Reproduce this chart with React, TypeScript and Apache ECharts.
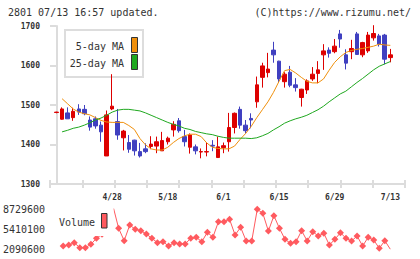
import React, { useEffect, useRef } from "react";
import * as echarts from "echarts";

// Trading days shown on the chart (2020-04-14 .. 2020-07-13)
const dates = [
  "4/14", "4/15", "4/16", "4/17", "4/20", "4/21", "4/22", "4/23", "4/24", "4/27",
  "4/28", "4/30", "5/1", "5/7", "5/8", "5/11", "5/12", "5/13", "5/14", "5/15",
  "5/18", "5/19", "5/20", "5/21", "5/22", "5/25", "5/26", "5/27", "5/28", "5/29",
  "6/1", "6/2", "6/3", "6/4", "6/5", "6/8", "6/9", "6/10", "6/11", "6/12",
  "6/15", "6/16", "6/17", "6/18", "6/19", "6/22", "6/23", "6/24", "6/25", "6/26",
  "6/29", "6/30", "7/1", "7/2", "7/3", "7/6", "7/7", "7/8", "7/9", "7/10",
  "7/13",
];

const opens = [
  1481, 1464, 1480, 1468, 1490, 1489, 1462, 1465, 1449, 1371,
  1490, 1458, 1417, 1405, 1411, 1382, 1389, 1395, 1396, 1384,
  1407, 1437, 1460, 1420, 1393, 1394, 1381, 1381, 1398, 1367,
  1392, 1407, 1443, 1489, 1449, 1466, 1508, 1570, 1582, 1639,
  1611, 1559, 1583, 1551, 1519, 1538, 1566, 1580, 1627, 1639,
  1635, 1680, 1627, 1635, 1680, 1627, 1637, 1670, 1675, 1677,
  1620,
];
const closes = [
  1482, 1490, 1465, 1484, 1482, 1478, 1444, 1447, 1432, 1475,
  1497, 1424, 1434, 1388, 1384, 1371, 1382, 1401, 1407, 1410,
  1416, 1451, 1435, 1407, 1424, 1384, 1382, 1382, 1396, 1394,
  1397, 1443, 1479, 1449, 1435, 1462, 1551, 1599, 1591, 1627,
  1566, 1578, 1550, 1544, 1540, 1561, 1578, 1589, 1637, 1631,
  1649, 1667, 1606, 1643, 1628, 1658, 1677, 1681, 1654, 1616,
  1627,
];
const lows = [
  1479, 1463, 1465, 1460, 1475, 1474, 1435, 1440, 1407, 1371,
  1487, 1412, 1385, 1379, 1372, 1367, 1378, 1388, 1378, 1384,
  1400, 1420, 1430, 1395, 1377, 1375, 1365, 1370, 1383, 1367,
  1378, 1382, 1428, 1440, 1428, 1441, 1493, 1544, 1570, 1607,
  1557, 1544, 1545, 1534, 1496, 1528, 1561, 1555, 1589, 1620,
  1631, 1645, 1590, 1616, 1627, 1621, 1632, 1663, 1648, 1603,
  1608,
];
const highs = [
  1483, 1494, 1494, 1493, 1502, 1500, 1471, 1471, 1458, 1486,
  1578, 1490, 1437, 1424, 1412, 1404, 1403, 1421, 1420, 1432,
  1420, 1459, 1467, 1437, 1428, 1400, 1390, 1405, 1411, 1420,
  1405, 1480, 1481, 1496, 1462, 1479, 1572, 1607, 1632, 1660,
  1612, 1583, 1599, 1568, 1541, 1565, 1596, 1611, 1654, 1646,
  1667, 1690, 1641, 1665, 1685, 1660, 1685, 1702, 1680, 1680,
  1642,
];

// Moving averages (the first trading day has no plotted value)
const ma5 = [
  null, 1516, 1503, 1490, 1482, 1478, 1475, 1468, 1461, 1457,
  1456, 1456, 1456, 1448, 1438, 1415, 1399, 1389, 1386, 1386,
  1393, 1405, 1415, 1422, 1426, 1426, 1420, 1404, 1393, 1390,
  1389, 1389, 1396, 1413, 1428, 1446, 1468, 1488, 1508, 1532,
  1560, 1587, 1590, 1581, 1570, 1560, 1556, 1556, 1566, 1588,
  1608, 1622, 1633, 1638, 1641, 1643, 1646, 1649, 1654, 1652,
  1651,
];
const ma25 = [
  null, 1432, 1436, 1441, 1444, 1449, 1455, 1462, 1467, 1474,
  1482, 1487, 1489, 1489, 1487, 1485, 1480, 1474, 1468, 1462,
  1456, 1451, 1447, 1441, 1438, 1433, 1430, 1427, 1425, 1421,
  1418, 1416, 1416, 1416, 1416, 1415, 1417, 1422, 1428, 1437,
  1445, 1454, 1460, 1465, 1469, 1474, 1481, 1488, 1497, 1508,
  1518, 1528, 1535, 1546, 1557, 1567, 1578, 1589, 1598, 1604,
  1610,
];

const volumes = [
  null, 2588500, 2754500, 3136000, 2307000, 2307000, 2870000, 3866000, 4530000, 5600000,
  9160000, 5526000, 3468000, 6074000, 5360000, 5128000, 4580000, 3866000, 3136000, 3302000,
  2589000, 3136000, 2920000, 2920000, 3866000, 4032000, 3302000, 4862000, 4032000, 6622000,
  6622000, 7020000, 4414000, 5692000, 3418000, 3418000, 8680000, 8016000, 5078000, 7617000,
  5526000, 3700000, 3036000, 3302000, 5128000, 3418000, 4962000, 4248000, 4696000, 2754000,
  3700000, 4796000, 3866000, 3418000, 4248000, 2589000, 4032000, 3584000, 2207000, 3468000,
  2041000,
];

const dateLabelIndexes = [10, 20, 30, 40, 50, 60];
const volumeTicks = [2090600, 5410100, 8729600];

const MONO = '"DejaVu Sans Mono", monospace';
const UP = "#dd0000";
const DOWN = "#4040c0";
const MA5_COLOR = "#f0900c";
const MA25_COLOR = "#1fa81f";
const VOL_COLOR = "#ff5a5f";
const AXIS_GRAY = "#dcdcdc";

// slot positions along the x axis
const X_MIN = -1.17;
const X_MAX = 62.64;

function pairs(values: (number | null)[]) {
  const out: number[][] = [];
  values.forEach((v, i) => {
    if (v != null) out.push([i, v]);
  });
  return out;
}

export default function App() {
  const ref = useRef<HTMLDivElement>(null);

  useEffect(() => {
    if (!ref.current) return;
    const chart = echarts.init(ref.current, undefined, { renderer: "svg" });

    const tickAxis = (inside: boolean, showLine: boolean) => ({
      type: "value",
      gridIndex: 0,
      position: "bottom",
      min: 0,
      max: 11,
      interval: 1,
      axisLine: { show: showLine, lineStyle: { color: AXIS_GRAY, width: 2 } },
      axisTick: { show: true, inside, length: 4, lineStyle: { color: AXIS_GRAY, width: 2 } },
      axisLabel: { show: false },
      splitLine: { show: false },
    });

    const priceAxis = (inside: boolean, main: boolean) => ({
      type: "value",
      gridIndex: 0,
      position: "left",
      min: 1300,
      max: 1700,
      interval: 100,
      axisLine: { show: main, lineStyle: { color: AXIS_GRAY, width: 2 } },
      axisTick: { show: true, inside, length: 4, lineStyle: { color: AXIS_GRAY, width: 2 } },
      axisLabel: {
        show: main,
        margin: 10,
        formatter: (v: number) => String(v),
        fontFamily: MONO,
        fontSize: 8,
        fontWeight: "bold",
        color: "#333",
      },
      splitLine: { show: false },
    });

    chart.setOption({
      animation: false,
      backgroundColor: "#ffffff",
      grid: [
        { left: 50, right: 15, top: 26, height: 158 },
        { left: 50, right: 15, top: 209, height: 40 },
      ],
      xAxis: [
        {
          type: "value",
          gridIndex: 0,
          position: "bottom",
          min: X_MIN,
          max: X_MAX,
          axisLine: { show: false },
          axisTick: { show: false },
          splitLine: { show: false },
          axisLabel: {
            customValues: dateLabelIndexes,
            formatter: (v: number) => dates[Math.round(v)] ?? "",
            margin: 9,
            fontFamily: MONO,
            fontSize: 8,
            fontWeight: "bold",
            color: "#333",
          },
        },
        {
          type: "value",
          gridIndex: 1,
          min: X_MIN,
          max: X_MAX,
          show: false,
          splitLine: { show: false },
        },
        tickAxis(false, true),
        tickAxis(true, false),
      ],
      yAxis: [
        priceAxis(false, true),
        {
          type: "value",
          gridIndex: 1,
          position: "left",
          min: volumeTicks[0],
          max: volumeTicks[2],
          axisLine: { show: false },
          axisTick: { show: false },
          splitLine: { show: false },
          axisLabel: {
            customValues: volumeTicks,
            formatter: (v: number) => String(v),
            margin: 6,
            fontFamily: MONO,
            fontSize: 10,
            color: "#333",
          },
        },
        priceAxis(true, false),
      ],
      series: [
        {
          type: "candlestick",
          xAxisIndex: 0,
          yAxisIndex: 0,
          data: dates.map((_, i) => [i, opens[i], closes[i], lows[i], highs[i]]),
          encode: { x: 0, y: [1, 2, 3, 4] },
          barWidth: 4,
          clip: false,
          itemStyle: {
            color: UP,
            color0: DOWN,
            borderColor: UP,
            borderColor0: DOWN,
            borderWidth: 1,
          },
        },
        {
          type: "line",
          name: "5-day MA",
          xAxisIndex: 0,
          yAxisIndex: 0,
          data: pairs(ma5),
          symbol: "none",
          z: 3,
          lineStyle: { color: MA5_COLOR, width: 1 },
        },
        {
          type: "line",
          name: "25-day MA",
          xAxisIndex: 0,
          yAxisIndex: 0,
          data: pairs(ma25),
          symbol: "none",
          z: 3,
          lineStyle: { color: MA25_COLOR, width: 1 },
        },
        {
          type: "line",
          name: "Volume",
          xAxisIndex: 1,
          yAxisIndex: 1,
          data: pairs(volumes),
          symbol: "diamond",
          symbolSize: 7,
          itemStyle: { color: VOL_COLOR },
          lineStyle: { color: VOL_COLOR, width: 1 },
        },
      ],
      graphic: [
        {
          type: "text",
          left: 8,
          top: 7,
          style: { text: "2801 07/13 16:57 updated.", font: `10px ${MONO}`, fill: "#333" },
        },
        {
          type: "text",
          right: 9,
          top: 7,
          style: { text: "(C)https://www.rizumu.net/", font: `10px ${MONO}`, fill: "#333" },
        },
        // moving-average legend
        {
          type: "rect",
          z: 1,
          shape: { x: 65, y: 30, width: 78, height: 47 },
          style: { fill: "#ffffff", stroke: "#dddddd", lineWidth: 2 },
        },
        {
          type: "text",
          z: 1,
          x: 124,
          y: 46,
          style: { text: "5-day MA", font: `10px ${MONO}`, fill: "#333", align: "right", verticalAlign: "middle" },
        },
        {
          type: "text",
          z: 1,
          x: 124,
          y: 63,
          style: { text: "25-day MA", font: `10px ${MONO}`, fill: "#333", align: "right", verticalAlign: "middle" },
        },
        {
          type: "rect",
          z: 1,
          shape: { x: 131.5, y: 37.5, width: 6, height: 15 },
          style: { fill: MA5_COLOR, stroke: "#333", lineWidth: 1 },
        },
        {
          type: "rect",
          z: 1,
          shape: { x: 131.5, y: 54.5, width: 6, height: 15 },
          style: { fill: MA25_COLOR, stroke: "#333", lineWidth: 1 },
        },
        // volume legend
        {
          type: "rect",
          z: 10,
          shape: { x: 54, y: 205, width: 59.5, height: 31 },
          style: { fill: "#ffffff" },
        },
        {
          type: "text",
          z: 11,
          x: 95,
          y: 222,
          style: { text: "Volume", font: `10px ${MONO}`, fill: "#333", align: "right", verticalAlign: "middle" },
        },
        {
          type: "rect",
          z: 11,
          shape: { x: 101.5, y: 213.5, width: 5.5, height: 14.5 },
          style: { fill: VOL_COLOR, stroke: "#333", lineWidth: 1 },
        },
      ],
    });

    return () => chart.dispose();
  }, []);

  return (
    <div
      ref={ref}
      style={{ position: "fixed", left: 0, top: 0, width: 420, height: 259 }}
    />
  );
}
